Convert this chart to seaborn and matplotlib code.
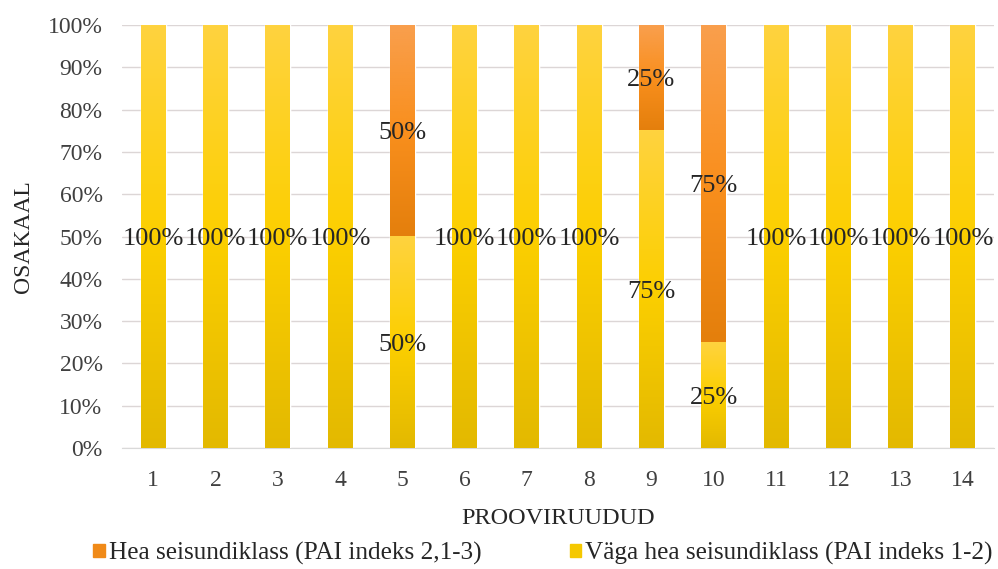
import numpy as np
import matplotlib
matplotlib.use("Agg")
import matplotlib.pyplot as plt
import pandas as pd
import seaborn as sns
from matplotlib.colors import LinearSegmentedColormap
from matplotlib.patches import Patch

# Data (share of plots in each class, %)
plots = ["1", "2", "3", "4", "5", "6", "7", "8", "9", "10", "11", "12", "13", "14"]
vaga_hea = [100, 100, 100, 100, 50, 100, 100, 100, 75, 25, 100, 100, 100, 100]
hea = [0, 0, 0, 0, 50, 0, 0, 0, 25, 75, 0, 0, 0, 0]
series_names = ["Hea seisundiklass (PAI indeks 2,1-3)", "Väga hea seisundiklass (PAI indeks 1-2)"]

df = pd.DataFrame({"plot": plots, "vaga": vaga_hea, "hea": hea})
df["total"] = df["vaga"] + df["hea"]

sns.set_style("white")
plt.rcParams["font.family"] = ["Liberation Serif", "DejaVu Serif"]

# gradient colours like the Excel fill (top light -> bottom dark)
yellow_cmap = LinearSegmentedColormap.from_list("yel", ["#e3b900", "#fccf00", "#ffd33f"])
orange_cmap = LinearSegmentedColormap.from_list("ora", ["#e47f0c", "#f98f1d", "#f99f4d"])

fig = plt.figure(figsize=(9.98, 5.69), dpi=100)
ax = fig.add_axes([0.1222, 0.2127, 0.8738, 0.7433])

# Stacked bars: total in orange behind, then the yellow part on top
sns.barplot(data=df, x="plot", y="total", color="#f98f1d", width=0.4, ax=ax, zorder=2)
sns.barplot(data=df, x="plot", y="vaga", color="#fccf00", width=0.4, ax=ax, zorder=3)

grad = np.linspace(0, 1, 256).reshape(-1, 1)
n = len(plots)
for i, p in enumerate(ax.patches[:n]):
    if df["hea"][i] > 0:
        x0 = p.get_x()
        ax.imshow(grad, extent=[x0, x0 + p.get_width(), df["vaga"][i], df["total"][i]],
                  origin="lower", aspect="auto", cmap=orange_cmap, zorder=4)
for i, p in enumerate(ax.patches[n:2 * n]):
    if df["vaga"][i] > 0:
        x0 = p.get_x()
        ax.imshow(grad, extent=[x0, x0 + p.get_width(), 0, df["vaga"][i]],
                  origin="lower", aspect="auto", cmap=yellow_cmap, zorder=4)

# Data labels in the middle of each segment
for i in range(n):
    if df["vaga"][i] > 0:
        ax.text(i, df["vaga"][i] / 2, f"{df['vaga'][i]}%", ha="center", va="center_baseline",
                fontsize=19, color="#262626", zorder=6)
    if df["hea"][i] > 0:
        ax.text(i, df["vaga"][i] + df["hea"][i] / 2, f"{df['hea'][i]}%", ha="center",
                va="center_baseline", fontsize=19, color="#262626", zorder=6)

ax.set_xlim(-0.5, n - 0.5)
ax.set_ylim(0, 100)
ax.set_yticks(range(0, 101, 10))
ax.set_yticklabels([f"{t}%" for t in range(0, 101, 10)])
ax.yaxis.grid(True, color="#dcd6d6", linewidth=1, zorder=0)
ax.set_axisbelow(True)
for s in ["top", "right", "left"]:
    ax.spines[s].set_visible(False)
ax.spines["bottom"].set_color("#d9d9d9")
ax.tick_params(axis="both", length=0, labelsize=17, colors="#404040")
ax.tick_params(axis="x", pad=16)
ax.tick_params(axis="y", pad=14)
ax.set_xlabel("PROOVIRUUDUD", fontsize=17.5, color="#262626", labelpad=12)
ax.set_ylabel("OSAKAAL", fontsize=17, color="#262626", labelpad=10)

handles = [Patch(color="#f08a18"), Patch(color="#f5c800")]
fig.legend(handles, series_names, loc="lower center", bbox_to_anchor=(0.544, -0.033), ncol=2,
           frameon=False, fontsize=18.2, handlelength=0.45, handleheight=0.45, handletextpad=0.15,
           columnspacing=3.5)

plt.savefig("out.png", dpi=100)
